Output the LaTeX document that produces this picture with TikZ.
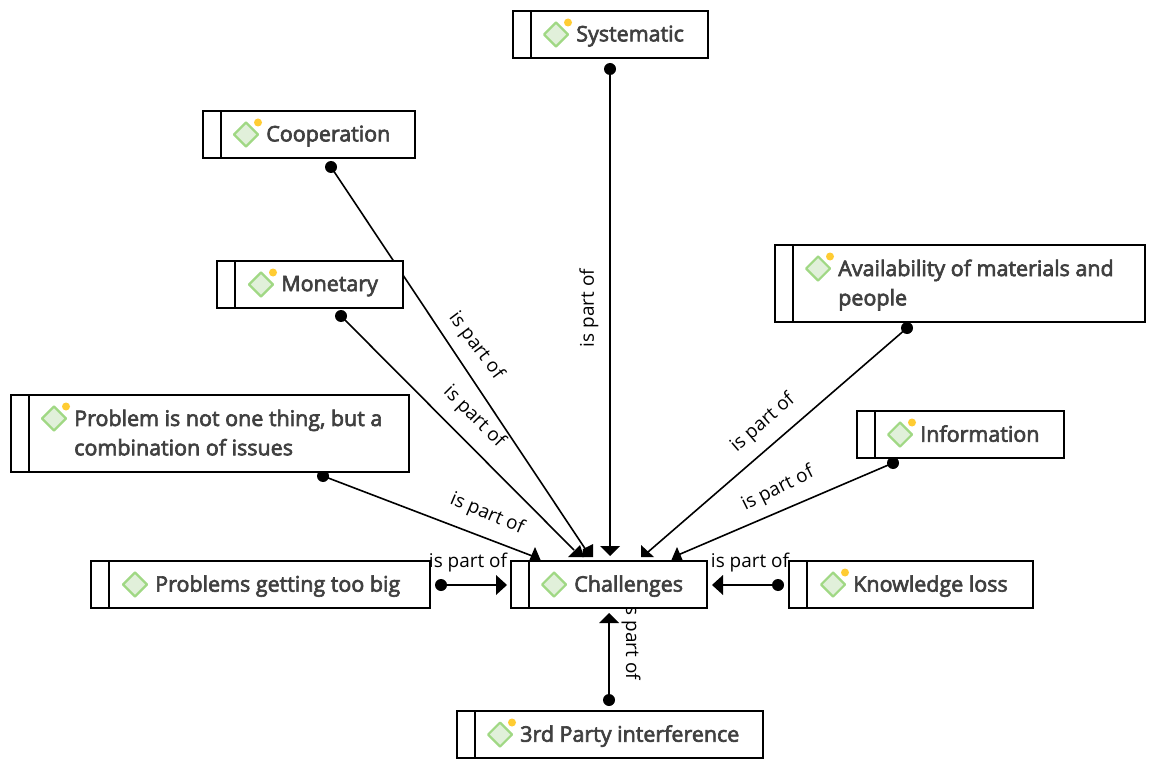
\documentclass[tikz,border=0pt]{standalone}
\usepackage{fontspec}
\setmainfont{Open Sans}
\newfontfamily\semib[FakeBold=3]{Open Sans}
\usetikzlibrary{arrows.meta}
\definecolor{txt}{HTML}{404040}
\definecolor{dgreen}{HTML}{A0D884}
\definecolor{dfill}{HTML}{E1F0DA}
\definecolor{dsun}{HTML}{FFCC33}
\tikzset{
  x=0.75pt,y=-0.75pt,
  cbox/.style={draw=black,line width=1.5pt,fill=white,rectangle,inner sep=0pt},
  ctext/.style={text=txt,font=\semib\fontsize{16.1}{22}\selectfont,anchor=west,align=left,inner sep=0pt,text depth=0pt},
  rel/.style={line width=1.2pt,draw=black},
  dotn/.style={circle,fill=black,inner sep=0pt,minimum size=9pt},
  tipn/.style={fill=black,draw=none},
  lbl/.style={font=\fontsize{14.2}{16}\selectfont,text=black,inner sep=0pt},
}
% name, x0, y0, x1, y1, text x, text, sun
\newcommand{\cbx}[8]{%
  \pgfmathsetmacro{\cx}{(#2+#4)/2}\pgfmathsetmacro{\cy}{(#3+#5)/2}%
  \pgfmathsetmacro{\w}{(#4-#2)*0.75}\pgfmathsetmacro{\h}{(#5-#3)*0.75}%
  \node[cbox,minimum width=\w pt,minimum height=\h pt] (#1) at (\cx,\cy) {};
  \draw[line width=1.5pt] (#2+18,#3) -- (#2+18,#5);
  \pgfmathsetmacro{\dx}{#6-20}\pgfmathsetmacro{\dy}{#3+23.5}%
  \fill[dfill,draw=dgreen,line width=1.6pt,line join=round] (\dx-12,\dy) -- (\dx,\dy-12) -- (\dx+12,\dy) -- (\dx,\dy+12) -- cycle;
  \ifnum#8=1 \fill[dsun] (\dx+12,\dy-12) circle (3pt);\fi
  \node[ctext] (#1t) at (#6,\cy-1) {#7};
}
\begin{document}
\begin{tikzpicture}
\useasboundingbox (0,0) rectangle (1157,770);

\node[dotn] (dsys) at (610,69) {};
\node[dotn] (dcoop) at (331,167) {};
\node[dotn] (dmon) at (341,316) {};
\node[dotn] (dprob) at (323,476) {};
\node[dotn] (davail) at (907,328) {};
\node[dotn] (dinfo) at (893,463) {};
\node[dotn] (dbig) at (441,585) {};
\node[dotn] (dknow) at (778,585) {};
\node[dotn] (dthird) at (609,700) {};

\coordinate (tsys) at (610,548);
\coordinate (tcoop) at (586,550);
\coordinate (tmon) at (574,550);
\coordinate (tprob) at (535,557);
\coordinate (tavail) at (648,552);
\coordinate (tinfo) at (678,555);
\coordinate (tbig) at (498,585);
\coordinate (tknow) at (720,585);
\coordinate (tthird) at (609,622);
\foreach \a/\b in {dsys/tsys,dcoop/tcoop,dmon/tmon,dprob/tprob,davail/tavail,dinfo/tinfo,dbig/tbig,dknow/tknow,dthird/tthird}
  \draw[rel] (\a.center) -- (\b);

\fill[tipn] (600,546) -- (620,546) -- (610,556) -- cycle;
\fill[tipn] (496,575) -- (507,585) -- (496,595) -- cycle;
\fill[tipn] (723,575) -- (712,585) -- (723,595) -- cycle;
\fill[tipn] (599,623) -- (619,623) -- (609,613) -- cycle;
\fill[tipn] (535,547) -- (541,561) -- (529,561) -- cycle;
\fill[tipn] (568,557) -- (584,557) -- (580,545) -- cycle;
\fill[tipn] (582,557) -- (593,557) -- (593,544) -- (583,549) -- cycle;
\fill[tipn] (641,545) -- (641,557) -- (654,557) -- cycle;
\fill[tipn] (677,547) -- (683,561) -- (671,561) -- cycle;

\node[lbl,rotate=-53] (l1) at (476,346) {is part of};
\node[lbl,rotate=-45] (l2) at (474,417) {is part of};
\node[lbl,rotate=90] (l3) at (589,308) {is part of};
\node[lbl,rotate=41] (l4) at (763,423) {is part of};
\node[lbl,rotate=26.5] (l5) at (778,489) {is part of};
\node[lbl,rotate=-23] (l6) at (487,514) {is part of};
\node[lbl] (l7) at (468,563) {is part of};
\node[lbl] (l8) at (750,563) {is part of};
\node[lbl,rotate=-90] (l9) at (631,641) {is part of};

\cbx{sys}{513}{11}{708}{58}{576}{Systematic}{1}
\cbx{coop}{203}{111}{415}{158}{266}{Cooperation}{1}
\cbx{mon}{217}{261}{403}{308}{281}{Monetary}{1}
\cbx{avail}{775}{245}{1145}{322}{838}{Availability of materials and\\people}{1}
\cbx{info}{857}{411}{1064}{458}{920}{Information}{1}
\cbx{prob}{11}{395}{409}{472}{74}{Problem is not one thing, but a\\combination of issues}{1}
\cbx{big}{91}{561}{430}{608}{155}{Problems getting too big}{0}
\cbx{chal}{511}{561}{707}{608}{574}{Challenges}{0}
\cbx{know}{789}{561}{1033}{608}{853}{Knowledge loss}{1}
\cbx{third}{457}{711}{763}{758}{520}{3rd Party interference}{1}
\end{tikzpicture}
\end{document}
